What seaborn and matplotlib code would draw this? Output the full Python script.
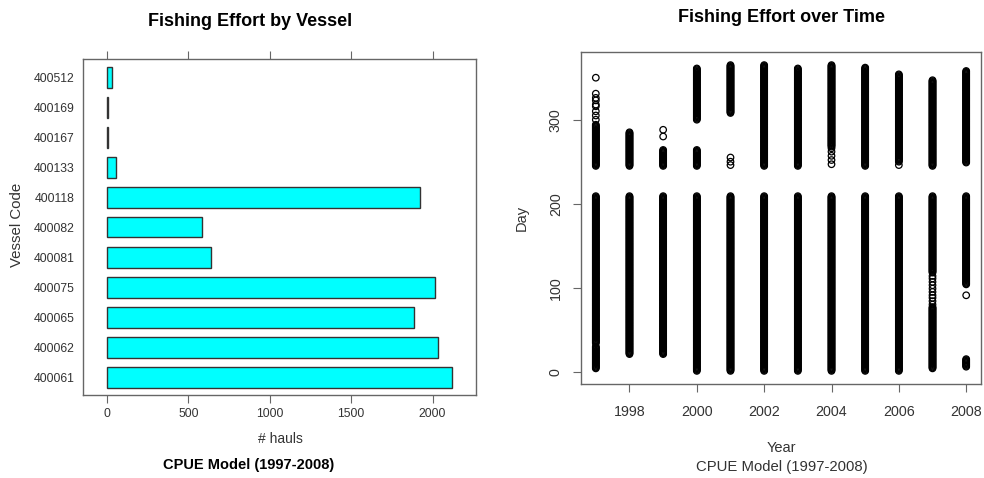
import numpy as np
import pandas as pd
import matplotlib
matplotlib.use("Agg")
import matplotlib.pyplot as plt
import seaborn as sns

# Hauls per vessel
vessels = ["400512", "400169", "400167", "400133", "400118", "400082",
           "400081", "400075", "400065", "400062", "400061"]
hauls = [31, 8, 6, 53, 1922, 583, 638, 2015, 1889, 2036, 2119]

# Fishing days per year, as runs of consecutive days (first day, last day)
seg_year = [1997, 1997, 1997,
            1998, 1998,
            1999, 1999,
            2000, 2000, 2000,
            2001, 2001,
            2002, 2002,
            2003, 2003,
            2004, 2004,
            2005, 2005,
            2006, 2006,
            2007, 2007, 2007,
            2008, 2008, 2008]
seg_start = [4, 34, 245,
             21, 245,
             21, 245,
             1, 245, 300,
             1, 308,
             1, 245,
             1, 245,
             1, 268,
             1, 245,
             1, 250,
             4, 118, 245,
             6, 104, 249]
seg_end = [30, 209, 294,
           209, 285,
           209, 264,
           209, 264, 361,
           209, 365,
           209, 365,
           209, 361,
           209, 365,
           209, 362,
           209, 354,
           77, 209, 347,
           15, 209, 358]

# Isolated fishing days
extra_year = [1997, 1997, 1997, 1997, 1997, 1997, 1997, 1997, 1997,
              1999, 1999,
              2001, 2001, 2001,
              2004, 2004, 2004, 2004, 2004,
              2006,
              2007, 2007, 2007, 2007, 2007, 2007, 2007, 2007, 2007, 2007,
              2008]
extra_day = [300, 305, 310, 316, 318, 323, 326, 331, 350,
             280, 288,
             246, 250, 255,
             247, 252, 257, 262, 266,
             246,
             80, 84, 88, 91, 95, 99, 103, 107, 111, 114,
             91]

year_ticks = [1998, 2000, 2002, 2004, 2006, 2008]
day_ticks = [0, 100, 200, 300]
haul_ticks = [0, 500, 1000, 1500, 2000]

vessel_df = pd.DataFrame({"vessel": vessels, "hauls": hauls})

rows_year, rows_day = [], []
for y, a, b in zip(seg_year, seg_start, seg_end):
    for d in range(a, b + 1):
        rows_year.append(y)
        rows_day.append(d)
rows_year += extra_year
rows_day += extra_day
effort_df = pd.DataFrame({"year": rows_year, "day": rows_day})

sns.set_theme(style="white")
plt.rcParams["font.family"] = ["Liberation Sans", "DejaVu Sans"]

W, H = 984, 478
fig = plt.figure(figsize=(W / 100, H / 100), dpi=100)
fig.patch.set_facecolor("white")


def box(l, t, r, b):
    return [l / W, 1 - b / H, (r - l) / W, (b - t) / H]


tick_col = "#333333"
frame_col = "#666666"

# ---- Hauls by vessel ----
ax1 = fig.add_axes(box(83, 59, 476, 395))
sns.barplot(data=vessel_df, x="hauls", y="vessel", order=vessels, orient="h",
            color="#00FFFF", saturation=1, edgecolor="#333333", linewidth=1,
            width=0.7, errorbar=None, ax=ax1)
ax1.set_xlim(-148, 2267)
ax1.set_ylim(10.6, -0.6)
ax1.set_xticks(haul_ticks)
ax1.set_xticklabels([str(t) for t in haul_ticks])
ax1.set_xlabel("")
ax1.set_ylabel("")
ax1.tick_params(axis="x", which="both", bottom=True, top=True, labeltop=False,
                direction="out", length=5.5, width=0.8, color=frame_col,
                labelsize=8.8, labelcolor=tick_col, pad=4)
ax1.tick_params(axis="y", left=False, length=0, labelsize=8.8,
                labelcolor=tick_col, pad=6)
for s in ax1.spines.values():
    s.set_visible(True)
    s.set_color(frame_col)
    s.set_linewidth(1)

fig.text(250 / W, 1 - 21 / H, "Fishing Effort by Vessel", ha="center",
         va="center", fontsize=13, fontweight="bold", color="black")
fig.text(280 / W, 1 - 439 / H, "# hauls", ha="center", va="center",
         fontsize=10, color=tick_col)
fig.text(249 / W, 1 - 465 / H, "CPUE Model (1997-2008)", ha="center",
         va="center", fontsize=10.5, fontweight="bold", color="black")
fig.text(17 / W, 1 - 225 / H, "Vessel Code", ha="center", va="center",
         rotation=90, fontsize=10.8, color=tick_col)

# ---- Fishing days over time ----
ax2 = fig.add_axes(box(581, 52, 981, 384))
sns.scatterplot(data=effort_df, x="year", y="day", marker="o", s=22,
                color="black", facecolor="none", edgecolor="black",
                linewidth=0.9, legend=False, ax=ax2)
ax2.set_xlim(1996.56, 2008.44)
ax2.set_ylim(-14.6, 380.6)
ax2.set_xticks(year_ticks)
ax2.set_xticklabels([str(t) for t in year_ticks])
ax2.set_yticks(day_ticks)
ax2.set_yticklabels([str(t) for t in day_ticks], rotation=90, va="center")
ax2.set_xlabel("")
ax2.set_ylabel("")
ax2.tick_params(axis="both", bottom=True, left=True, direction="out",
                length=6, width=0.8, color=frame_col, labelsize=10.3,
                labelcolor=tick_col)
ax2.tick_params(axis="x", pad=9)
ax2.tick_params(axis="y", pad=7)
for s in ax2.spines.values():
    s.set_visible(True)
    s.set_color(frame_col)
    s.set_linewidth(1)

fig.text(781 / W, 1 - 17 / H, "Fishing Effort over Time", ha="center",
         va="center", fontsize=13, fontweight="bold", color="black")
fig.text(781 / W, 1 - 448 / H, "Year", ha="center", va="center",
         fontsize=10.5, color=tick_col)
fig.text(782 / W, 1 - 467 / H, "CPUE Model (1997-2008)", ha="center",
         va="center", fontsize=10.7, color=tick_col)
fig.text(522 / W, 1 - 218 / H, "Day", ha="center", va="center",
         rotation=90, fontsize=10.5, color=tick_col)

fig.savefig("out.png", dpi=100)
